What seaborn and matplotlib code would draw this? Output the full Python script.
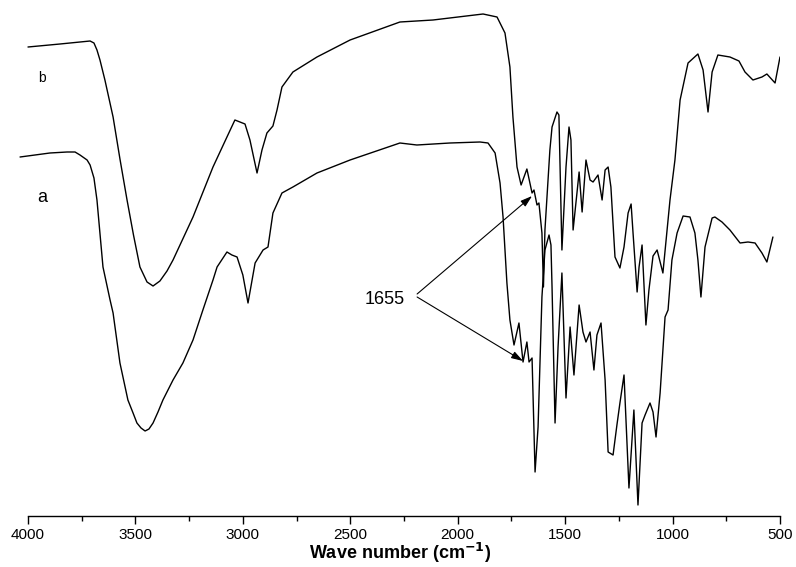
import matplotlib
matplotlib.use("Agg")
import matplotlib.pyplot as plt
import seaborn as sns
import pandas as pd
from matplotlib.ticker import MultipleLocator

# ---- data (arbitrary transmittance units) ----
wavenumber_b = [4000, 3851, 3711, 3693, 3679, 3665, 3642, 3604, 3572, 3539, 3509, 3479,
                3446, 3418, 3386, 3353, 3325, 3232,
                3139, 3074, 3037, 2990, 2967, 2934, 2911, 2888, 2860, 2841, 2818, 2767,
                2655, 2501, 2269, 2115, 1882, 1817, 1780, 1757, 1743, 1724, 1705, 1678,
                1654, 1645, 1631, 1622, 1608, 1601, 1594, 1571, 1561, 1538, 1529, 1515,
                1496, 1482, 1473, 1463, 1445, 1435, 1421, 1403, 1384, 1370, 1347, 1328,
                1314, 1300, 1287, 1268, 1245, 1226, 1207, 1193, 1184, 1165, 1156, 1142,
                1124, 1110, 1091, 1072, 1045, 1012, 989, 965, 928, 882, 858, 835, 816,
                789, 733, 691, 663, 626, 584, 561, 523, 500]
transmittance_b = [470, 473, 476, 474, 467, 457, 437, 400, 358, 317, 282, 250,
                   235, 231, 236, 246, 257, 300,
                   350, 380, 397, 393, 377, 344, 367, 384, 391, 407, 430, 445,
                   460, 477, 495, 497, 503, 500, 484, 450, 400, 350, 332, 348,
                   324, 327, 312, 314, 284, 230, 287, 367, 390, 405, 402, 267,
                   350, 390, 377, 287, 324, 345, 305, 357, 337, 335, 342, 317,
                   347, 350, 330, 260, 249, 270, 304, 313, 284, 225, 250, 272,
                   192, 227, 261, 267, 244, 317, 357, 417, 454, 463, 447, 405, 445,
                   462, 460, 456, 445, 437, 440, 443, 434, 460]

wavenumber_a = [4037, 3898, 3818, 3781, 3758, 3725, 3711, 3693, 3679, 3651, 3618, 3604, 3572,
                3535, 3511, 3493, 3474, 3455, 3437, 3418, 3395, 3372, 3325, 3279, 3232,
                3186, 3139, 3120, 3074,
                3051, 3027, 3000, 2976, 2943, 2906, 2883, 2860, 2818, 2767, 2655, 2501,
                2269, 2190, 2036, 1896, 1859, 1826, 1803, 1789, 1771, 1757, 1738, 1715,
                1696, 1678, 1668, 1654, 1640, 1626, 1608, 1594, 1575, 1566, 1561, 1547,
                1533, 1515, 1496, 1477, 1459, 1435, 1417, 1403, 1384, 1366, 1352, 1333,
                1314, 1300, 1277, 1259, 1245, 1226, 1203, 1180, 1161, 1142, 1128, 1105,
                1091, 1077, 1058, 1035, 1021, 1003, 979, 951, 919, 896, 882, 868, 849,
                816, 803, 770, 733, 686, 649, 616, 584, 561, 533]
transmittance_a = [360, 364, 365, 365, 362, 357, 352, 339, 317, 250, 217, 204, 154,
                   117, 104, 94, 89, 86, 88, 94, 105, 117, 137, 154, 177,
                   207, 237, 250, 265,
                   262, 260, 242, 214, 254, 267, 270, 304, 324, 330, 344, 357,
                   374, 372, 374, 375, 374, 364, 334, 300, 234, 197, 172, 194,
                   155, 175, 155, 159, 45, 90, 220, 267, 282, 272, 230, 94,
                   170, 244, 119, 190, 142, 212, 185, 175, 185, 147, 182, 194,
                   137, 65, 62, 92, 114, 142, 29, 107, 12, 94, 102, 114,
                   105, 80, 124, 200, 207, 257, 284, 301, 300, 284, 257, 220, 270,
                   299, 300, 295, 287, 274, 275, 274, 264, 255, 280]

curve_labels = ["a", "b"]
peak_label = "1655"
x_ticks = [4000, 3500, 3000, 2500, 2000, 1500, 1000, 500]

# ---- plotting ----
sns.set_style("white")
plt.rcParams["font.family"] = ["Liberation Sans", "DejaVu Sans"]
plt.rcParams["text.color"] = "black"
plt.rcParams["axes.labelcolor"] = "black"
plt.rcParams["xtick.color"] = "black"

df_a = pd.DataFrame({"w": wavenumber_a, "t": transmittance_a})
df_b = pd.DataFrame({"w": wavenumber_b, "t": transmittance_b})

fig = plt.figure(figsize=(7.96, 5.67), dpi=100)
ax = fig.add_axes([19.4 / 796, 51 / 567, (780 - 19.4) / 796, 516 / 567])

sns.lineplot(data=df_a, x="w", y="t", ax=ax, color="black", linewidth=1.0, sort=False, estimator=None)
sns.lineplot(data=df_b, x="w", y="t", ax=ax, color="black", linewidth=1.0, sort=False, estimator=None)

ax.set_xlim(4040, 500)
ax.set_ylim(1, 517)

for s in ["top", "right", "left"]:
    ax.spines[s].set_visible(False)
ax.spines["bottom"].set_bounds(500, 4000)
ax.spines["bottom"].set_linewidth(1.0)
ax.spines["bottom"].set_color("black")

ax.set_xticks(x_ticks)
ax.xaxis.set_minor_locator(MultipleLocator(250))
ax.tick_params(axis="x", which="major", direction="out", length=5.8, width=1.0,
               labelsize=11, pad=3, bottom=True, colors="black")
ax.tick_params(axis="x", which="minor", direction="out", length=3.6, width=1.0,
               bottom=True, colors="black")
ax.set_yticks([])
ax.set_ylabel("")
ax.set_xlabel("Wave number (cm$^{\\mathbf{-1}}$)", fontsize=13, fontweight="bold",
              labelpad=-1, color="black")

ax.text(3935, 439, curve_labels[1], fontsize=10, ha="center", va="center", color="black")
ax.text(3935, 320, curve_labels[0], fontsize=13, ha="center", va="center", color="black")

ax.text(2338, 217, peak_label, fontsize=13, ha="center", va="center", color="black")
arrow_kw = dict(arrowstyle="-|>,head_length=0.7,head_width=0.22", color="black",
                lw=0.8, shrinkA=0, shrinkB=0)
ax.annotate("", xy=(1654, 321), xytext=(2189, 223), arrowprops=arrow_kw)
ax.annotate("", xy=(1696, 156), xytext=(2189, 220), arrowprops=arrow_kw)

fig.savefig("out.png", dpi=100)
